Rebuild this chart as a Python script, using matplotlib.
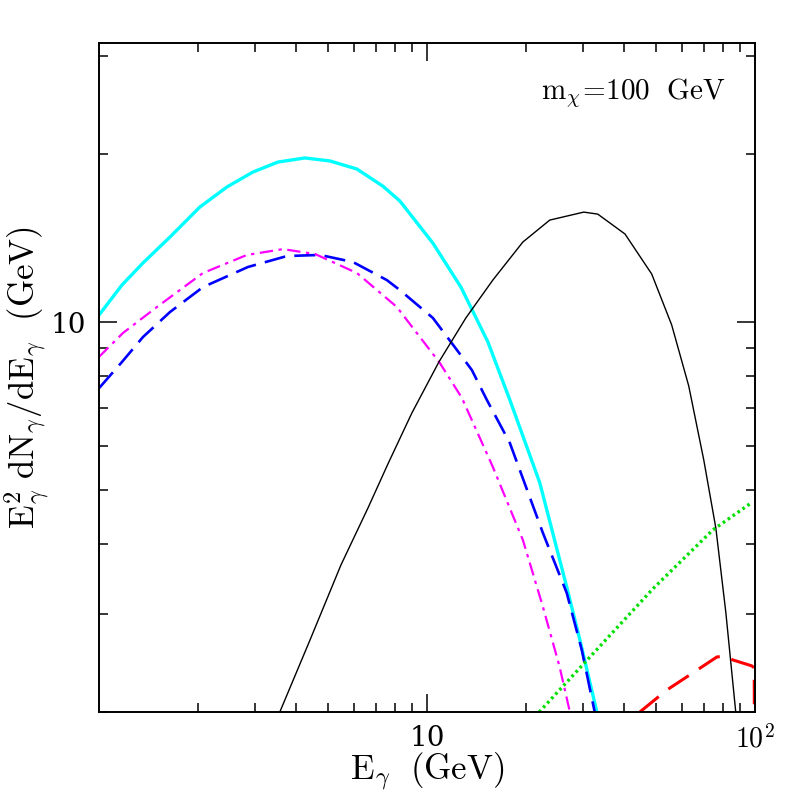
import numpy as np
import matplotlib
matplotlib.use("Agg")
import matplotlib.pyplot as plt
from matplotlib.ticker import FixedLocator, NullFormatter, FixedFormatter

plt.rcParams['mathtext.fontset'] = 'cm'
plt.rcParams['font.family'] = 'serif'
plt.rcParams['font.serif'] = ['DejaVu Serif']

# spectra (E in GeV, E^2 dN/dE in GeV)
cyan_e = [1.0, 1.175, 1.362, 1.646, 2.03, 2.456, 2.948, 3.513, 4.246, 5.06, 6.12, 7.34,
          8.27, 10.43, 12.70, 15.35, 17.91, 22.1, 26.7, 29.3, 33.0]
cyan_y = [10.29, 11.65, 12.76, 14.2, 16.07, 17.46, 18.57, 19.35, 19.68, 19.44, 18.80, 17.52,
          16.48, 13.85, 11.55, 9.21, 7.25, 5.15, 3.35, 2.69, 2.0]

blue_e = [1.0, 1.175, 1.362, 1.646, 2.075, 2.847, 3.743, 4.72, 5.95, 7.55, 8.27, 10.43,
          12.35, 13.72, 15.24, 17.91, 22.58, 26.7, 29.7, 32.5]
blue_y = [7.61, 8.48, 9.40, 10.42, 11.55, 12.55, 13.13, 13.19, 12.81, 11.89, 11.41, 10.17,
          8.91, 8.20, 7.25, 6.07, 4.19, 3.27, 2.58, 2.0]

magenta_e = [1.0, 1.184, 1.502, 2.075, 2.827, 3.64, 4.56, 6.12, 8.10, 10.96, 12.79, 15.89,
             19.62, 22.58, 25.4, 27.3]
magenta_y = [8.66, 9.56, 10.64, 12.24, 13.19, 13.51, 13.24, 12.24, 10.64, 8.44, 7.31, 5.50,
             4.07, 3.09, 2.41, 2.0]

black_e = [3.56, 4.41, 5.47, 6.61, 7.61, 9.00, 10.88, 13.15, 15.89, 19.62, 23.7, 30.1,
           33.2, 40.2, 48.5, 55.8, 62.9, 69.9, 76.1, 81.6, 87.5]
black_y = [2.0, 2.70, 3.67, 4.64, 5.57, 6.87, 8.48, 10.17, 11.89, 13.91, 15.23, 15.74,
           15.61, 14.38, 12.19, 9.88, 7.68, 5.66, 4.27, 3.02, 2.0]

green_e = [22.0, 49.0, 74.5, 98.0]
green_y = [2.0, 3.33, 4.24, 4.75]

red_e = [44.6, 53.9, 64.7, 76.6, 81.0, 85.7, 97.9, 99.6, 99.9]
red_y = [2.0, 2.19, 2.35, 2.51, 2.52, 2.48, 2.42, 2.4, 1.5]

fig = plt.figure(figsize=(7.97, 7.97), dpi=100)
ax = fig.add_axes([0.1242, 0.1066, 0.8228, 0.8394])

ax.plot(cyan_e, cyan_y, color='cyan', lw=2.4)
ax.plot(blue_e, blue_y, color='blue', lw=1.9, dashes=(8, 3.5))
ax.plot(magenta_e, magenta_y, color='magenta', lw=1.6, dashes=(6, 2.5, 1.5, 2.5))
ax.plot(black_e, black_y, color='black', lw=1.0)
ax.plot(green_e, green_y, color='#00e000', lw=2.4, dashes=(0.8, 1.0))
ax.plot(red_e, red_y, color='red', lw=2.2, dashes=(8, 4))

ax.set_xscale('log')
ax.set_yscale('log')
ax.set_xlim(1, 100)
ax.set_ylim(2, 10 ** 1.5)

xmin = [m * d for d in (1, 10) for m in range(2, 10)]
ax.xaxis.set_major_locator(FixedLocator([10, 100]))
ax.xaxis.set_major_formatter(FixedFormatter(['10', r'$10^2$']))
ax.xaxis.set_minor_locator(FixedLocator(xmin))
ax.xaxis.set_minor_formatter(NullFormatter())

ax.yaxis.set_major_locator(FixedLocator([10]))
ax.yaxis.set_major_formatter(FixedFormatter(['10']))
ax.yaxis.set_minor_locator(FixedLocator([2, 3, 4, 5, 6, 7, 8, 9, 20, 30]))
ax.yaxis.set_minor_formatter(NullFormatter())

ax.tick_params(which='both', direction='in', top=True, right=True, width=1.1)
ax.tick_params(which='major', length=13, labelsize=20, pad=9)
ax.tick_params(which='minor', length=6.5)
for sp in ax.spines.values():
    sp.set_linewidth(1.4)

ax.set_xlabel(r'$\mathrm{E}_\gamma\ \ (\mathrm{GeV})$', fontsize=25, labelpad=-2)
ax.set_ylabel(r'$\mathrm{E}_\gamma^2\ \mathrm{dN}_\gamma/\mathrm{dE}_\gamma\ \ (\mathrm{GeV})$',
              fontsize=25, labelpad=0)
ax.text(0.955, 0.925, r'$\mathrm{m}_\chi\!=\!100\ \ \mathrm{GeV}$', transform=ax.transAxes,
        ha='right', va='center', fontsize=21)

fig.savefig('out.png', dpi=100)
